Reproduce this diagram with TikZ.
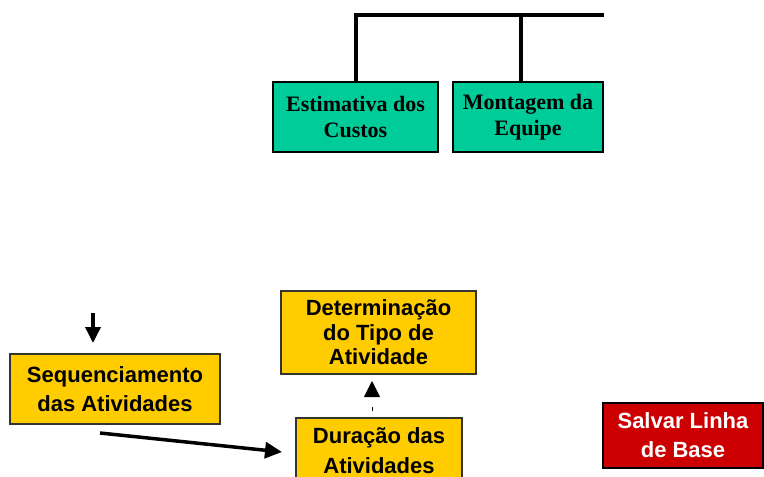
\documentclass[tikz,border=0pt]{standalone}
\usepackage{fontspec}
\setmainfont{Liberation Serif}
\setsansfont{Liberation Sans}
\usetikzlibrary{arrows.meta}
\definecolor{boxgreen}{HTML}{00CC99}
\definecolor{boxyellow}{HTML}{FFCC00}
\definecolor{boxred}{HTML}{CC0000}
\tikzset{
  greenbox/.style={draw=black, line width=1.8pt, fill=boxgreen, align=center,
    inner sep=0pt, font=\bfseries\fontsize{22}{26}\selectfont},
  yellowbox/.style={draw=black!80, line width=1.2pt, fill=boxyellow, align=center,
    inner sep=0pt, font=\sffamily\bfseries\fontsize{22}{29}\selectfont},
  redbox/.style={draw=black, line width=1.2pt, fill=boxred, text=white, align=center,
    inner sep=0pt, font=\sffamily\bfseries\fontsize{22}{29}\selectfont},
  flow/.style={->, line width=3.5pt},
}
\begin{document}
\begin{tikzpicture}[x=1pt, y=-1pt, >={Triangle[length=17pt, width=16pt]}]
            \clip (0,0) rectangle (764,477);
            % Top bus
            \coordinate (busM) at (521,15);
            \coordinate (busR) at (604,15);
            \node[greenbox, minimum width=165pt, minimum height=70pt] (custos) at (355.5,117) {Estimativa dos\\Custos};
            \node[greenbox, minimum width=150pt, minimum height=70pt] (equipe) at (528,117) {Montagem da\\Equipe};
            \draw[line width=4pt] (custos.north) |- (busR);
            \draw[line width=4pt] (busM) -- (busM |- equipe.north);
            % Lower boxes
            \node[yellowbox, minimum width=195pt, minimum height=83pt,
              font=\sffamily\bfseries\fontsize{22}{24.5}\selectfont] (tipo) at (378.5,332.5) {Determinação\\do Tipo de\\Atividade};
            \node[yellowbox, minimum width=210pt, minimum height=70pt] (seq) at (115,389) {Sequenciamento\\das Atividades};
            \node[yellowbox, minimum width=166pt, minimum height=66pt,
              font=\sffamily\bfseries\fontsize{22}{30}\selectfont] (duracao) at (379,451) {Duração das\\Atividades};
            \node[redbox, minimum width=160pt, minimum height=65pt] (salvar) at (683,435.5) {Salvar Linha\\de Base};
            % Arrows
            \coordinate (seqIn) at (93,313);
            \coordinate (seqTip) at (93,343);
            \coordinate (seqOut) at (100,433);
            \coordinate (durIn) at (282,452);
            \coordinate (tipoIn) at (372,381);
            \draw[->, line width=3.5pt, >={Triangle[length=16pt, width=15pt]}] (seqIn) -- (seqTip);
            \draw[flow] (seqOut) -- (durIn);
            \draw[->, line width=1pt, dash pattern=on 4pt off 12pt, dash phase=10pt,
              >={Triangle[length=16pt, width=16pt]}] (duracao.north -| tipoIn) -- (tipoIn);
        \end{tikzpicture}
\end{document}
